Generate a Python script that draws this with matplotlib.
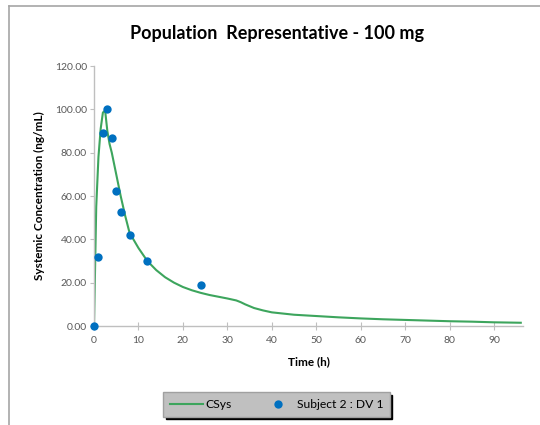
import matplotlib
matplotlib.use("Agg")
import matplotlib.pyplot as plt
from matplotlib.lines import Line2D

plt.rcParams['font.family'] = ['Lato', 'DejaVu Sans']

# Model-predicted systemic concentration (CSys)
model_time = [0, 0.5, 1, 1.5, 2, 2.5, 3, 3.5, 4, 5, 6, 7, 8, 10, 12, 14, 16, 18, 20,
              22, 24, 26, 28, 30, 32, 33, 34, 36, 38, 40, 45, 50, 55, 60, 65, 70,
              75, 80, 85, 90, 96]
model_conc = [0, 55, 78, 91, 98.5, 99.5, 90, 84, 80, 70, 60, 51, 43, 36, 30, 25.8, 22.5,
              20, 18, 16.5, 15.3, 14.3, 13.5, 12.7, 11.8, 11.0, 10.0, 8.3, 7.2, 6.3,
              5.2, 4.6, 4.0, 3.5, 3.1, 2.8, 2.5, 2.2, 2.0, 1.7, 1.5]

# Observed data, Subject 2 : DV 1
obs_time = [0, 1, 2, 3, 4, 5, 6, 8, 12, 24]
obs_conc = [0, 32, 89, 100, 87, 62.5, 52.5, 42, 30, 19]

y_ticks = [0, 20, 40, 60, 80, 100, 120]
x_ticks = [0, 10, 20, 30, 40, 50, 60, 70, 80, 90]

fig = plt.figure(figsize=(5.4, 4.25), dpi=100)
ax = fig.add_axes([94/540, 1-326/425, (523-94)/540, (326-66)/425])

line, = ax.plot(model_time, model_conc, color='#3DA55D', lw=1.5, label='CSys', zorder=2)
pts, = ax.plot(obs_time, obs_conc, 'o', color='#0070C0', ms=6, mec='none',
               label='Subject 2 : DV 1', zorder=3, clip_on=False)

ax.set_xlim(0, 96.5)
ax.set_ylim(0, 120)
ax.set_xticks(x_ticks)
ax.set_yticks(y_ticks)
ax.set_yticklabels([f"{v:.2f}" for v in y_ticks])

for s in ['top', 'right']:
    ax.spines[s].set_visible(False)
for s in ['left', 'bottom']:
    ax.spines[s].set_color('#BFBFBF')
    ax.spines[s].set_linewidth(1.0)

ax.tick_params(axis='x', direction='inout', length=6, color='#BFBFBF',
               labelsize=7.5, labelcolor='#595959', pad=4)
ax.tick_params(axis='y', direction='out', length=3, color='#BFBFBF',
               labelsize=7.5, labelcolor='#595959', pad=2)

ax.set_xlabel('Time (h)', fontsize=8.5, fontweight='bold', labelpad=8)
ax.set_ylabel('Systemic Concentration (ng/mL)', fontsize=8.5, fontweight='bold', labelpad=7)

fig.text(277/540, 1-33/425, 'Population  Representative - 100 mg',
         fontsize=13, fontweight='bold', ha='center', va='center')

leg = fig.legend(handles=[line, pts], loc='center', ncol=2,
                 bbox_to_anchor=(276.5/540, 1-404.5/425),
                 frameon=True, fancybox=False, facecolor='#C0C0C0',
                 edgecolor='#A0A0A0', framealpha=1,
                 shadow={'color': 'black', 'alpha': 1, 'ox': 2, 'oy': -2},
                 fontsize=8.7, handlelength=2.7, columnspacing=2.5,
                 borderpad=0.55, handletextpad=0.2)

# outer frame lines along the top and left edges
fig.add_artist(Line2D([9/540, 9/540], [0, 1-6/425], transform=fig.transFigure,
                      color='#A6A6A6', lw=1.2))
fig.add_artist(Line2D([9/540, 1], [1-6/425, 1-6/425], transform=fig.transFigure,
                      color='#A6A6A6', lw=1.2))

fig.savefig('out.png', dpi=100)
